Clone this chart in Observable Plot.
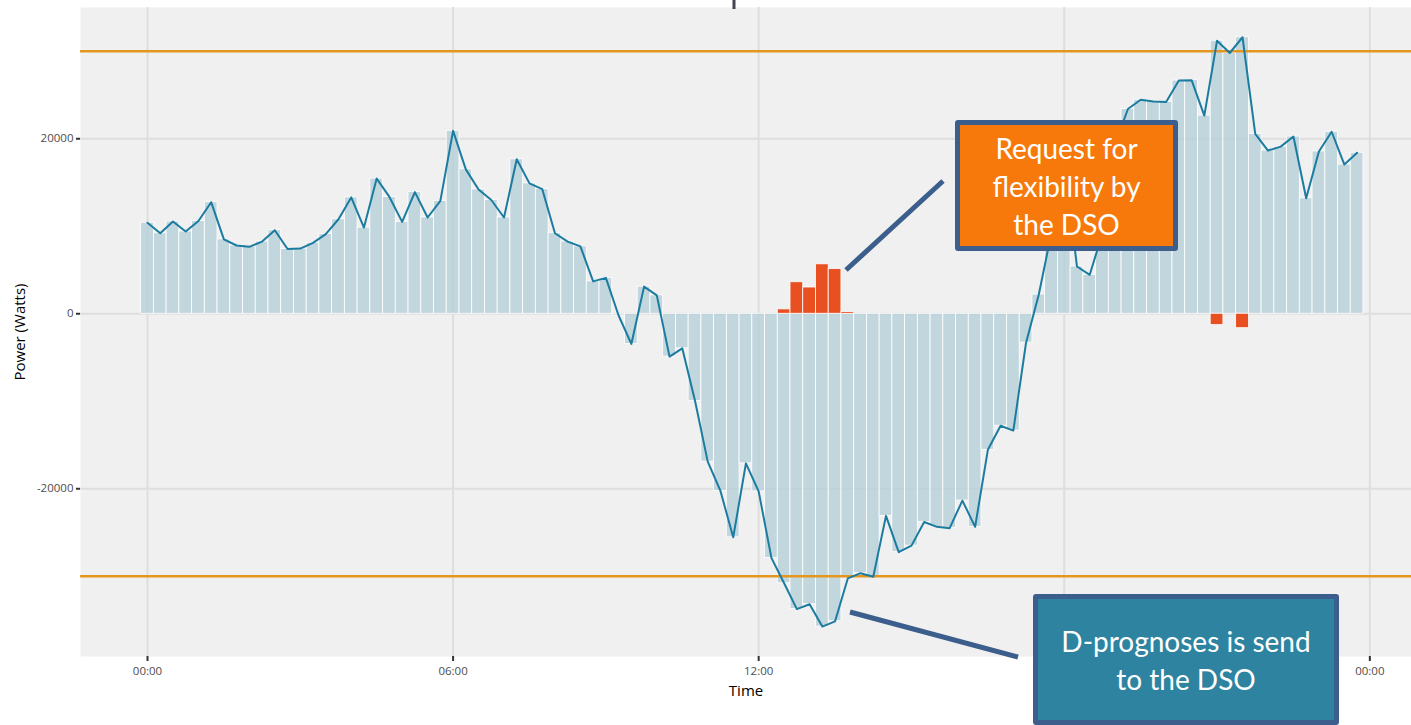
<!DOCTYPE html>
<html>
<head>
<meta charset="utf-8">
<script src="https://cdn.jsdelivr.net/npm/d3@7"></script>
<script src="https://cdn.jsdelivr.net/npm/@observablehq/plot@0.6"></script>
<style>
  html, body { margin: 0; padding: 0; background: #ffffff; }
  #wrap { position: relative; width: 1411px; height: 725px; overflow: hidden; }
  #wrap svg { display: block; }
  .box {
    position: absolute; box-sizing: border-box;
    border: 5px solid #3b5e8c; border-radius: 3px;
    color: #ffffff; font-family: Lato, "Open Sans", sans-serif;
    font-size: 28px; line-height: 38px; text-align: center;
    display: flex; align-items: center; justify-content: center;
  }
  #overlay { position: absolute; left: 0; top: 0; pointer-events: none; }
</style>
</head>
<body>
<div id="wrap"></div>
<script>
// ---- data -------------------------------------------------------------
// 15-minute slots, hour of day (0 = 00:00 ... 23.75 = 23:45)
const slotHours = d3.range(96).map(i => i / 4);

// Power (Watts) per 15-minute slot
const power = [
  10400, 9200, 10550, 9400, 10600, 12750, 8500, 7800,
  7650, 8250, 9550, 7400, 7450, 8100, 9100, 10800,
  13300, 9850, 15450, 13350, 10500, 13900, 11000, 12900,
  20900, 16500, 14200, 13000, 11000, 17650, 14900, 14250,
  9200, 8250, 7700, 3700, 4100, -200, -3450, 3100,
  2100, -4900, -3950, -9950, -16900, -20250, -25550, -17100,
  -20300, -27900, -30800, -33750, -33200, -35750, -35150, -30250,
  -29650, -30050, -23100, -27250, -26500, -23800, -24350, -24500,
  -21350, -24350, -15550, -12800, -13350, -3300, 2200, 9300,
  17200, 5400, 4450, 9200, 19400, 23400, 24450, 24250,
  24200, 26650, 26700, 22650, 31200, 29800, 31600, 20550,
  18650, 19100, 20250, 13200, 18550, 20800, 17050, 18400
];

// Flexibility requested by the DSO (hour of day, Watts)
const flexHours  = [12.5, 12.75, 13.0, 13.25, 13.5, 13.75, 21.0, 21.5];
const flexValues = [500, 3600, 3000, 5650, 5100, 200, -1300, -1650];

// Grid limits (Watts)
const limits = [30000, -30000];

// Axis ticks
const xTicks = [0, 6, 12, 18, 24];
const xTickLabels = ["00:00", "06:00", "12:00", "18:00", "00:00"];
const yTicks = [-20000, 0, 20000];

// ---- build tables -------------------------------------------------------
const series = slotHours.map((t, i) => ({t, v: power[i]}));
const flex = flexHours.map((t, i) => ({t, v: flexValues[i]}));
const half = 0.125;

const chart = Plot.plot({
  width: 1411,
  height: 725,
  marginLeft: 80,
  marginRight: 0,
  marginTop: 7,
  marginBottom: 69,
  style: {fontFamily: "'Open Sans', sans-serif", fontSize: "12px", color: "#4d4d4d", background: "transparent"},
  x: {domain: [-1.3155, 24.818], label: null},
  y: {domain: [-39170, 35000], label: null},
  marks: [
    Plot.frame({fill: "#f0f0f0", stroke: null}),
    Plot.gridX(xTicks, {stroke: "#dedede", strokeWidth: 2, strokeOpacity: 1}),
    Plot.gridY(yTicks, {stroke: "#dedede", strokeWidth: 2, strokeOpacity: 1}),
    Plot.rect(series, {
      x1: d => d.t - half, x2: d => d.t + half, y1: 0, y2: "v",
      fill: "#b2cdd8", fillOpacity: 0.74, stroke: "#ffffff", strokeWidth: 0.8
    }),
    Plot.rect(flex, {
      x1: d => d.t - half, x2: d => d.t + half, y1: 0, y2: "v",
      fill: "#e85021", stroke: "#ffffff", strokeWidth: 0.8
    }),
    Plot.ruleY(limits, {stroke: "#e5961f", strokeWidth: 2.6}),
    Plot.line(series, {x: "t", y: "v", stroke: "#1c7ca0", strokeWidth: 2}),
    Plot.axisX(xTicks, {
      tickFormat: (d, i) => xTickLabels[i], tickSize: 5, tickPadding: 5,
      stroke: "#333333", strokeWidth: 2, fill: "#4d4d4d", fontSize: 11.5, label: null
    }),
    Plot.axisY(yTicks, {
      tickFormat: d => String(d), tickSize: 4, tickPadding: 3,
      stroke: "#333333", strokeWidth: 2, fill: "#4d4d4d", fontSize: 11.5, label: null
    }),
    Plot.text(["Time"], {text: d => d, frameAnchor: "bottom", dy: 39, fontSize: 15, fill: "#000000"}),
    Plot.text(["Power (Watts)"], {text: d => d, frameAnchor: "left", textAnchor: "middle", dx: -60, rotate: -90, fontSize: 15, fill: "#000000"})
  ]
});

const wrap = document.getElementById("wrap");
wrap.appendChild(chart);

// ---- annotations (overlay) ----------------------------------------------
const ns = "http://www.w3.org/2000/svg";
const ov = document.createElementNS(ns, "svg");
ov.setAttribute("id", "overlay");
ov.setAttribute("width", 1411);
ov.setAttribute("height", 725);
const connectors = [[846, 270, 943, 181], [850, 612, 1018, 657]];
connectors.forEach(([x1, y1, x2, y2]) => {
  const l = document.createElementNS(ns, "line");
  l.setAttribute("x1", x1); l.setAttribute("y1", y1);
  l.setAttribute("x2", x2); l.setAttribute("y2", y2);
  l.setAttribute("stroke", "#3b5e8c"); l.setAttribute("stroke-width", 5);
  ov.appendChild(l);
});
const tick = document.createElementNS(ns, "rect");
tick.setAttribute("x", 732.5); tick.setAttribute("y", 0);
tick.setAttribute("width", 3); tick.setAttribute("height", 9);
tick.setAttribute("fill", "#45454d");
ov.appendChild(tick);
wrap.appendChild(ov);

function addBox(left, top, w, h, bg, html) {
  const b = document.createElement("div");
  b.className = "box";
  b.style.left = left + "px"; b.style.top = top + "px";
  b.style.width = w + "px"; b.style.height = h + "px";
  b.style.background = bg;
  b.innerHTML = "<div>" + html + "</div>";
  wrap.appendChild(b);
}
addBox(955, 120, 223, 131, "#f7780b", "Request for<br>flexibility by<br>the DSO");
addBox(1033, 594, 306, 131, "#2e84a0", "D-prognoses is send<br>to the DSO");
</script>
</body>
</html>
